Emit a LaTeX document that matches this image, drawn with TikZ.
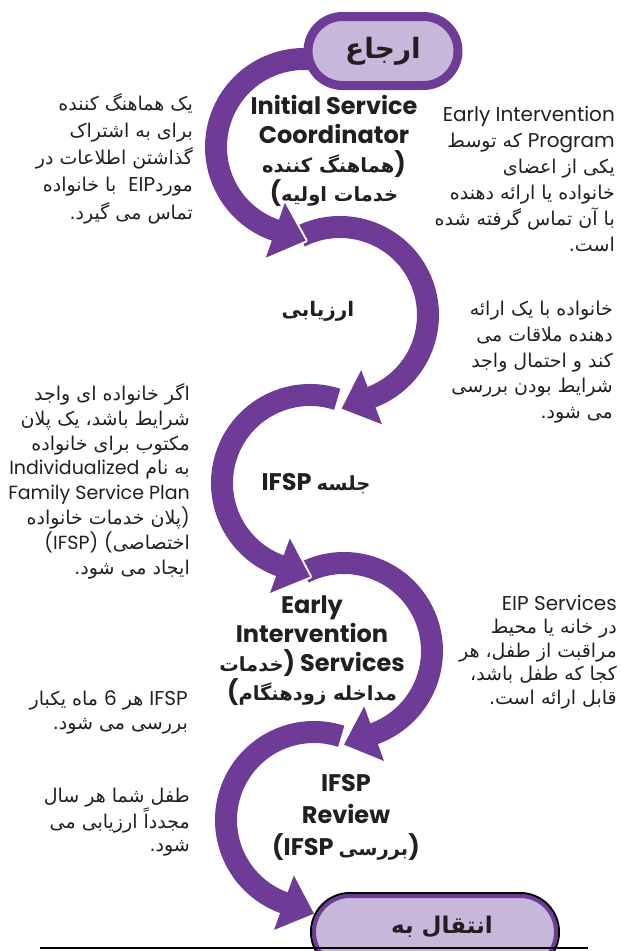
\documentclass[tikz,border=0pt]{standalone}
\usepackage{fontspec}
\newfontfamily\lat{Poppins}
\newfontfamily\ar[Script=Arabic]{DejaVu Sans}
\TeXXeTstate=1
\usetikzlibrary{calc,shapes.misc}
\definecolor{eipPurple}{HTML}{6E3C96}
\definecolor{eipLav}{HTML}{C6B7DB}
\definecolor{ink}{HTML}{231F20}
\newcommand{\latw}[1]{{\lat\fontsize{20}{24}\selectfont #1}}
\newcommand{\latn}[1]{{\lat\fontsize{19}{24}\selectfont #1}}
\newcommand{\Lw}[1]{\beginL\latw{#1}\endL}
\newcommand{\Ln}[1]{\beginL\latn{#1}\endL}
\newcommand{\arT}{\ar\bfseries\fontsize{19.5}{29}\selectfont}
\newcommand{\headAt}[3]{%
  \draw[halo] ($(#1)+(#2:59)$) -- ($(#1)+(#2:88)+(#3:32)$) -- ($(#1)+(#2:117)$);
  \fill[headfill] ($(#1)+(#2:59)$) -- ($(#1)+(#2:88)+(#3:32)$) -- ($(#1)+(#2:117)$) -- cycle;}
\begin{document}
\begin{tikzpicture}[x=1pt,y=1pt,
  band/.style={draw=eipPurple, line width=22pt},
  halo/.style={draw=white, line width=4pt, line join=round},
  headfill/.style={fill=eipPurple},
  ttl/.style={align=center, inner sep=0pt, text=ink, font=\lat\bfseries\fontsize{24}{29}\selectfont},
  bodytxt/.style={align=right, inner sep=0pt, text=ink, anchor=north east, font=\ar\fontsize{19}{#1}\selectfont},
  pillbox/.style={rounded rectangle, inner sep=0pt}
]
\useasboundingbox (0,0) rectangle (621,-951);
\begin{scope}
\clip (0,0) rectangle (621,-951);
% centres of the curved arrows
\coordinate (c1) at (304,-147);
\coordinate (c2) at (340,-315);
\coordinate (c3) at (310,-483);
\coordinate (c4) at (344,-651);
\coordinate (c5) at (314,-820);
% bands
\draw[band] ($(c1)+(60:88)$) arc[start angle=60,end angle=252,radius=88];
\draw[band] ($(c2)+(117:88)$) arc[start angle=117,end angle=-70,radius=88];
\draw[band] ($(c3)+(72:88)$) arc[start angle=72,end angle=251,radius=88];
\draw[band] ($(c4)+(117:88)$) arc[start angle=117,end angle=-71,radius=88];
\draw[band] ($(c5)+(72:88)$) arc[start angle=72,end angle=251,radius=88];
% heads
\headAt{c1}{251}{341}
\headAt{c2}{-69}{-159}
\headAt{c3}{250}{340}
\headAt{c4}{-70}{-160}
\headAt{c5}{250}{340}
% top pill with its text
\node[pillbox, draw=eipPurple, line width=9pt, fill=eipLav, minimum width=150pt, minimum height=69pt, text=ink, font=\ar\bfseries\fontsize{28}{30}\selectfont] (refpill) at (383,-51) {\beginR ارجاع\endR};
% bottom pill (shapes) and its text
\draw[draw=eipPurple, line width=4pt, fill=eipLav, rounded corners=35.9pt] (314,-896) rectangle (556,-968);
\draw[draw=black, line width=2pt, rounded corners=38.9pt] (311,-893) rectangle (559,-971);
\node[inner sep=0pt, text=ink, font=\ar\bfseries\fontsize{23}{30}\selectfont] (xfertxt) at (442,-927) {\beginR انتقال به\endR};
\coordinate (ruleL) at (40,-948);
\coordinate (ruleR) at (588,-948);
\draw[line width=1.8pt] (ruleL) -- (ruleR);
% titles
\node[ttl] (t1) at (334,-151) {Initial Service\\Coordinator\\\beginR{)}{\arT هماهنگ کننده}\endR\\\beginR{\arT خدمات اولیه}{(}\endR};
\node[ttl, font=\ar\bfseries\fontsize{20}{26}\selectfont] (t2) at (318,-311) {\beginR ارزیابی\endR};
\node[ttl] (t3) at (316,-484) {\beginR{\arT جلسه} \beginL IFSP\endL\endR};
\node[ttl] (t4) at (312,-651) {Early\\Intervention\\\beginR\beginL Services\endL\ {)}{\arT خدمات}\endR\\\beginR{\arT مداخله زودهنگام}{(}\endR};
\node[ttl, font=\lat\bfseries\fontsize{24}{32}\selectfont] (t5) at (346,-817) {IFSP\\Review\\\beginR{)}{\arT بررسی} \beginL IFSP\endL{(}\endR};
% side texts
\node[bodytxt=27.2] (n1) at (193,-93) {%
\beginR یک هماهنگ کننده\endR\\
\beginR برای به اشتراک\endR\\
\beginR گذاشتن اطلاعات در\endR\\
\beginR مورد\Lw{EIP}\ \ با خانواده\endR\\
\beginR تماس می گیرد.\endR};
\node[bodytxt=26] (n2) at (615,-106) {%
\latw{Early Intervention}\\
\beginR\Lw{Program} که توسط\endR\\
\beginR یکی از اعضای\endR\\
\beginR خانواده یا ارائه دهنده\endR\\
\beginR با آن تماس گرفته شده\endR\\
\beginR است.\endR};
\node[bodytxt=25.7] (n3) at (613,-301) {%
\beginR خانواده با یک ارائه\endR\\
\beginR دهنده ملاقات می\endR\\
\beginR کند و احتمال واجد\endR\\
\beginR شرایط بودن بررسی\endR\\
\beginR می شود.\endR};
\node[bodytxt=24.9] (n4) at (190,-383) {%
\beginR اگر خانواده ای واجد\endR\\
\beginR شرایط باشد، یک پلان\endR\\
\beginR مکتوب برای خانواده\endR\\
\beginR به نام \Ln{Individualized}\endR\\
\latn{Family Service Plan}\\
\beginR\latn{)}پلان خدمات خانواده\endR\\
\beginR اختصاصی\latn{(}\ \Ln{(IFSP)}\endR\\
\beginR ایجاد می شود.\endR};
\node[bodytxt=23.5] (n5) at (617,-595) {%
\latw{EIP Services}\\
\beginR در خانه یا محیط\endR\\
\beginR مراقبت از طفل، هر\endR\\
\beginR کجا که طفل باشد،\endR\\
\beginR قابل ارائه است.\endR};
\node[bodytxt=24] (n6) at (188,-691) {%
\beginR\Lw{IFSP} هر \Lw{6} ماه یکبار\endR\\
\beginR بررسی می شود.\endR};
\node[bodytxt=23.5] (n7) at (190,-788) {%
\beginR طفل شما هر سال\endR\\
\beginR مجدداً ارزیابی می\endR\\
\beginR شود.\endR};
\end{scope}
\end{tikzpicture}
\end{document}
